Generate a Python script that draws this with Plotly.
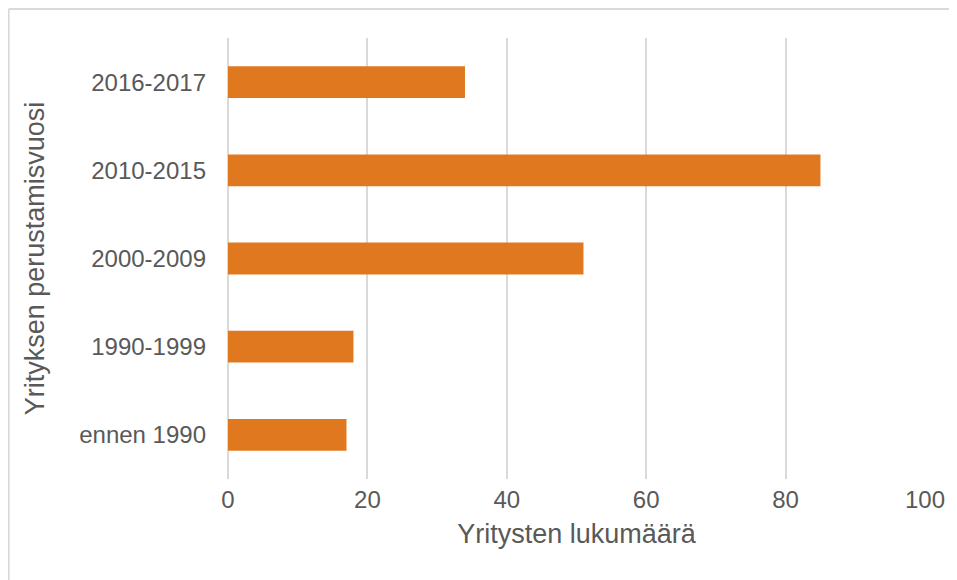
import plotly.graph_objects as go

categories = ["ennen 1990", "1990-1999", "2000-2009", "2010-2015", "2016-2017"]
counts = [17, 18, 51, 85, 34]
x_ticks = [0, 20, 40, 60, 80, 100]

# the page body has an 8px margin, so the figure is shrunk by 8px on the top/left
fig = go.Figure()
fig.add_trace(go.Bar(
    y=categories,
    x=counts,
    orientation='h',
    width=0.36,
    marker_color='#E07820',
    marker_line_width=0,
))

fig.update_layout(
    width=949,
    height=572,
    margin=dict(l=220, r=30, t=30, b=101),
    paper_bgcolor='white',
    plot_bgcolor='white',
    font=dict(family='Liberation Sans, Arial, sans-serif', color='#595959', size=24),
    showlegend=False,
    xaxis=dict(
        range=[0, 100],
        tickvals=x_ticks,
        showgrid=True,
        gridcolor='#D9D9D9',
        gridwidth=1.5,
        zeroline=True,
        zerolinecolor='#D9D9D9',
        zerolinewidth=1.5,
        showline=False,
        ticks='',
        ticklabelstandoff=4,
        tickfont=dict(size=24),
        title=dict(text='Yritysten lukumäärä', font=dict(size=27), standoff=12),
    ),
    yaxis=dict(
        categoryorder='array',
        categoryarray=categories,
        showgrid=False,
        showline=False,
        ticks='',
        ticklabelstandoff=21,
        tickfont=dict(size=24),
        title=dict(text='Yrityksen perustamisvuosi', font=dict(size=27), standoff=26),
    ),
    shapes=[
        # chart border (top and left edges visible)
        dict(type='line', xref='paper', yref='paper',
             x0=(0 - 220) / 699, x1=(949 - 220) / 699,
             y0=(471 - 1) / 441, y1=(471 - 1) / 441,
             line=dict(color='#D9D9D9', width=2)),
        dict(type='line', xref='paper', yref='paper',
             x0=(0 - 220) / 699, x1=(0 - 220) / 699,
             y0=(471 - 1) / 441, y1=(471 - 572) / 441,
             line=dict(color='#D9D9D9', width=2)),
    ],
)

fig.write_html("out.html")
